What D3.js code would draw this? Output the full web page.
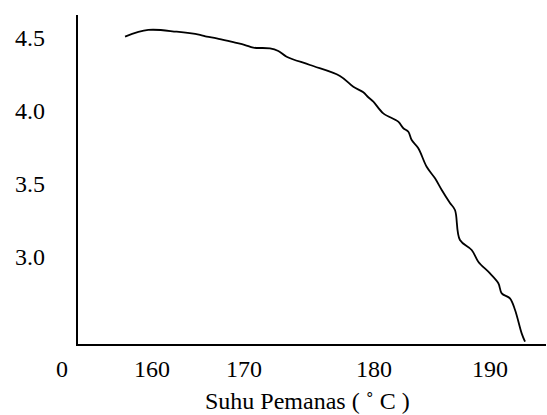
<!DOCTYPE html>
<html>
<head>
<meta charset="utf-8">
<script src="https://cdn.jsdelivr.net/npm/d3@7"></script>
<style>
  body { margin: 0; background: #fff; }
  text { font-family: "Liberation Serif", "Times New Roman", serif; fill: #000; }
</style>
</head>
<body>
<div id="chart"></div>
<script>
// data (temperature in C, value on y axis)
const suhu = [157.07, 159.6, 162.68, 165.22, 165.95, 167.03, 168.84, 170.08, 170.72, 172.0,
    172.64, 173.28, 175.08, 177.38, 178.41, 179.18, 179.56, 179.95, 180.8, 182.09,
    182.53, 182.96, 183.25, 183.82, 184.54, 185.26, 185.84, 186.55, 186.98, 187.41,
    188.42, 188.99, 190.0, 190.72, 191.01, 191.72, 192.16, 192.73, 193.02]
const nilai = [4.51, 4.555, 4.543, 4.521, 4.509, 4.498, 4.471, 4.452, 4.434, 4.429,
    4.411, 4.372, 4.315, 4.24, 4.166, 4.128, 4.094, 4.064, 3.984, 3.927,
    3.882, 3.858, 3.801, 3.745, 3.618, 3.539, 3.459, 3.37, 3.322, 3.116,
    3.048, 2.968, 2.888, 2.82, 2.751, 2.717, 2.637, 2.477, 2.42]
const xTicks = [160, 170, 180, 190]
const yTicks = [3.0, 3.5, 4.0, 4.5]
const xTitle = "Suhu Pemanas ( ˚ C )"

const width = 547, height = 415
const margin = ({ top: 15, right: 1, bottom: 70, left: 77 })

let svg = d3.select("#chart").append("svg")
    .attr("width", width)
    .attr("height", height)

// the original axis is not evenly spaced, so the scale is piecewise
let xScale = d3.scaleLinear()
    .domain(xTicks)
    .range([152, 244, 374, 490])

let yScale = d3.scaleLinear()
    .domain([3.0, 4.5])
    .range([257, 38])

const x0 = margin.left, x1 = width - margin.right
const y0 = height - margin.bottom, y1 = margin.top

// axis lines (no tick marks in the reference)
svg.append("line")
    .attr("x1", x0).attr("x2", x0)
    .attr("y1", y1).attr("y2", y0 + 1)
    .attr("stroke", "#000").attr("stroke-width", 2)

svg.append("line")
    .attr("x1", x0).attr("x2", x1)
    .attr("y1", y0).attr("y2", y0)
    .attr("stroke", "#000").attr("stroke-width", 2)

svg.selectAll(".ylab")
    .data(yTicks)
    .join("text")
    .attr("class", "ylab")
    .attr("x", 45)
    .attr("y", d => yScale(d))
    .attr("dy", "0.35em")
    .attr("text-anchor", "end")
    .attr("font-size", 24)
    .text(d => d.toFixed(1))

svg.selectAll(".xlab")
    .data(xTicks)
    .join("text")
    .attr("class", "xlab")
    .attr("x", d => xScale(d))
    .attr("y", 377)
    .attr("text-anchor", "middle")
    .attr("font-size", 24)
    .text(d => d)

// the "0" at the broken origin
svg.append("text")
    .attr("x", x0 - 15)
    .attr("y", 377)
    .attr("text-anchor", "middle")
    .attr("font-size", 24)
    .text("0")

svg.append("text")
    .attr("x", 205)
    .attr("y", 409)
    .attr("font-size", 24)
    .text(xTitle)

const line = d3.line()
    .x(d => xScale(d[0]))
    .y(d => yScale(d[1]))
    .curve(d3.curveCatmullRom)

svg.append("path")
    .datum(d3.zip(suhu, nilai))
    .attr("fill", "none")
    .attr("stroke", "#000")
    .attr("stroke-width", 1.8)
    .attr("d", line)
</script>
</body>
</html>
